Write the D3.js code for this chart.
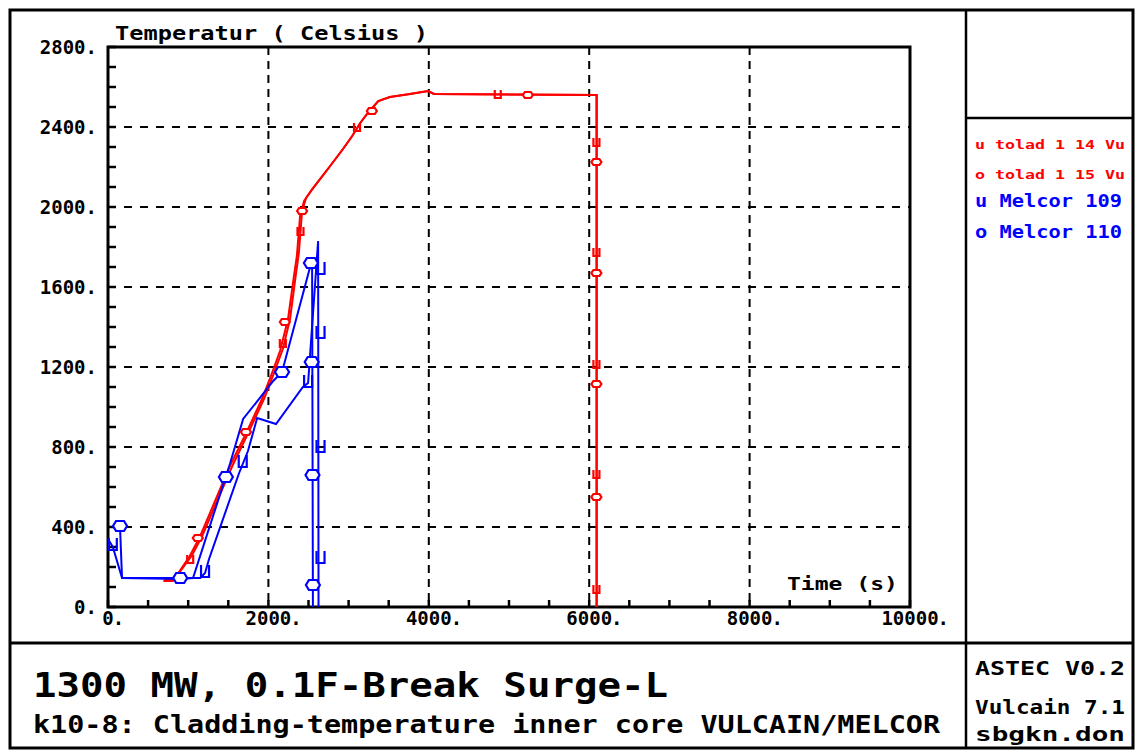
<!DOCTYPE html>
<html lang="en">
<head>
  <meta charset="UTF-8">
  <title>Cladding temperature inner core</title>
  <script src="https://d3js.org/d3.v7.min.js"></script>
  <style>
    body { margin: 0; background: #fff; }
    text { font-family: "DejaVu Sans Mono", monospace; font-weight: bold; }
  </style>
</head>
<body>
  <svg width="1136" height="751"></svg>

  <script>
    // Axis ticks
    const xTicks = [0, 2000, 4000, 6000, 8000, 10000];
    const yTicks = [0, 400, 800, 1200, 1600, 2000, 2400, 2800];

    // Curves: [time (s), temperature (C)]
    const tolad14 = [[690,130],[810,130],[1020,255],[1150,355],[1335,530],[1520,705],[1735,880],[1920,1040],[2045,1170],[2145,1280],[2245,1440],[2310,1630],[2355,1755],[2395,1955],[2445,2030],[2545,2090],[2645,2140],[2770,2205],[2930,2290],[3045,2355],[3145,2420],[3240,2470],[3370,2530],[3515,2550],[3765,2565],[3990,2580],[4065,2565],[6090,2560],[6090,0]];
    const tolad15 = [[700,135],[830,140],[1050,260],[1180,360],[1360,530],[1550,705],[1760,880],[1950,1045],[2075,1175],[2180,1290],[2270,1440],[2335,1640],[2380,1770],[2420,1980],[2470,2045],[2570,2100],[2645,2140],[2770,2205],[2930,2290],[3045,2355],[3145,2420],[3240,2470],[3370,2530],[3515,2550],[3765,2565],[3990,2580],[4065,2565],[6095,2560],[6095,0]];
    const melcor109 = [[0,340],[60,300],[175,145],[1150,145],[1210,170],[1260,240],[1630,665],[1745,780],[1860,945],[2095,915],[2430,1100],[2495,1120],[2620,1830],[2625,0]];
    const melcor110 = [[150,400],[175,145],[900,140],[1060,145],[1520,715],[1685,940],[2060,1130],[2170,1175],[2530,1715],[2545,1715],[2555,0]];

    // Marker positions
    const tolad14Marks = [[1025,235],[2180,1315],[2400,1875],[3105,2395],[4860,2560],[6090,2320],[6090,1770],[6090,1210],[6090,660],[6090,85]];
    const tolad15Marks = [[1120,345],[1720,875],[2205,1425],[2420,1980],[3290,2480],[5235,2560],[6090,2225],[6090,1670],[6090,1115],[6090,550]];
    const melcor109Marks = [[60,310],[1210,175],[1680,725],[2495,1125],[2650,1690],[2650,1370],[2650,800],[2650,245]];
    const melcor110Marks = [[150,405],[900,145],[1470,650],[2170,1175],[2530,1720],[2540,1225],[2550,660],[2555,110]];

    const legendLabels = ["u tolad 1 14 Vu", "o tolad 1 15 Vu", "u Melcor 109", "o Melcor 110"];

    const svg = d3.select("svg");

    const x = d3.scaleLinear().domain([0, 10000]).range([108, 910]);
    const y = d3.scaleLinear().domain([0, 2800]).range([607, 47]);

    // Outer frame and panel dividers
    svg.append("rect").attr("x", 10).attr("y", 10).attr("width", 1123).attr("height", 738)
      .attr("fill", "none").attr("stroke", "black").attr("stroke-width", 3);
    svg.append("line").attr("x1", 966).attr("x2", 966).attr("y1", 10).attr("y2", 748)
      .attr("stroke", "black").attr("stroke-width", 2.5);
    svg.append("line").attr("x1", 10).attr("x2", 1133).attr("y1", 643).attr("y2", 643)
      .attr("stroke", "black").attr("stroke-width", 3);
    svg.append("line").attr("x1", 966).attr("x2", 1133).attr("y1", 118).attr("y2", 118)
      .attr("stroke", "black").attr("stroke-width", 2.5);

    // Grid
    svg.selectAll(".hgrid")
      .data(yTicks.filter(d => d > 0 && d < 2800))
      .enter().append("line")
      .attr("class", "hgrid")
      .attr("x1", x(0)).attr("x2", x(10000))
      .attr("y1", d => y(d)).attr("y2", d => y(d))
      .attr("stroke", "black").attr("stroke-width", 2)
      .attr("stroke-dasharray", "8,8");
    svg.selectAll(".vgrid")
      .data(xTicks.filter(d => d > 0 && d < 10000))
      .enter().append("line")
      .attr("class", "vgrid")
      .attr("x1", d => x(d)).attr("x2", d => x(d))
      .attr("y1", y(2800)).attr("y2", y(0))
      .attr("stroke", "black").attr("stroke-width", 2)
      .attr("stroke-dasharray", "8,6");

    // Minor ticks (inward)
    svg.selectAll(".ytick")
      .data(d3.range(0, 2801, 100))
      .enter().append("line")
      .attr("class", "ytick")
      .attr("x1", x(0)).attr("x2", x(0) + 8)
      .attr("y1", d => y(d)).attr("y2", d => y(d))
      .attr("stroke", "black").attr("stroke-width", 2.5);
    svg.selectAll(".xtick")
      .data(d3.range(0, 10001, 500))
      .enter().append("line")
      .attr("class", "xtick")
      .attr("x1", d => x(d)).attr("x2", d => x(d))
      .attr("y1", y(0)).attr("y2", y(0) - 7)
      .attr("stroke", "black").attr("stroke-width", 2.5);

    // Plot frame
    svg.append("rect")
      .attr("x", x(0)).attr("y", y(2800))
      .attr("width", x(10000) - x(0)).attr("height", y(0) - y(2800))
      .attr("fill", "none").attr("stroke", "black").attr("stroke-width", 3);

    // Tick labels
    svg.selectAll(".ylab")
      .data(yTicks)
      .enter().append("text")
      .attr("class", "ylab")
      .attr("x", 97).attr("y", d => y(d) + 7)
      .attr("text-anchor", "end")
      .attr("font-size", 19)
      .text(d => d + ".");

    xTicks.forEach(function(v) {
      const t = svg.append("text")
        .attr("x", x(v)).attr("y", 625)
        .attr("text-anchor", "middle")
        .attr("font-size", 19)
        .text(v);
      const w = t.node().getComputedTextLength();
      svg.append("text")
        .attr("x", x(v) + w / 2 - 1).attr("y", 625)
        .attr("font-size", 19)
        .text(".");
    });

    // Axis titles
    svg.append("text").attr("x", 115).attr("y", 40)
      .attr("font-size", 19).attr("textLength", 313).attr("lengthAdjust", "spacingAndGlyphs")
      .text("Temperatur ( Celsius )");
    svg.append("text").attr("x", 787).attr("y", 590)
      .attr("font-size", 18).attr("textLength", 111).attr("lengthAdjust", "spacingAndGlyphs")
      .text("Time (s)");

    // Curves
    const line = d3.line().x(d => x(d[0])).y(d => y(d[1]));
    const series = [
      { data: tolad15, color: "red" },
      { data: tolad14, color: "red" },
      { data: melcor109, color: "blue" },
      { data: melcor110, color: "blue" }
    ];
    svg.selectAll(".curve")
      .data(series)
      .enter().append("path")
      .attr("class", "curve")
      .attr("d", d => line(d.data))
      .attr("fill", "none")
      .attr("stroke", d => d.color)
      .attr("stroke-width", 2);

    // Markers
    function drawMarks(data, shape, color) {
      svg.selectAll(null)
        .data(data)
        .enter().append("path")
        .attr("transform", d => "translate(" + x(d[0]) + "," + y(d[1]) + ")")
        .attr("d", shape)
        .attr("fill", shape.indexOf("Z") > 0 ? "white" : "none")
        .attr("stroke", color)
        .attr("stroke-width", 2.2);
    }
    const redU = "M-3,-5 V3 H3 V-5";
    const redO = "M-3,-3 H3 L5,0 L3,3 H-3 L-5,0 Z";
    const blueU = "M-4,-7 V5 H4 V-7";
    const blueO = "M-4,-5 H4 L7,0 L4,5 H-4 L-7,0 Z";
    drawMarks(tolad14Marks, redU, "red");
    drawMarks(tolad15Marks, redO, "red");
    drawMarks(melcor109Marks, blueU, "blue");
    drawMarks(melcor110Marks, blueO, "blue");

    // Legend
    const legendColors = ["red", "red", "blue", "blue"];
    const legendY = [149, 179, 207, 238];
    const legendW = [150, 150, 147, 147];
    svg.selectAll(".legend")
      .data(legendLabels)
      .enter().append("text")
      .attr("class", "legend")
      .attr("x", 975)
      .attr("y", (d, i) => legendY[i])
      .attr("font-size", (d, i) => i < 2 ? 13 : 17)
      .attr("textLength", (d, i) => legendW[i])
      .attr("lengthAdjust", "spacingAndGlyphs")
      .attr("fill", (d, i) => legendColors[i])
      .text(d => d);

    // Bottom caption
    svg.append("text").attr("x", 33).attr("y", 697)
      .attr("font-size", 33).attr("font-weight", "normal")
      .attr("textLength", 635).attr("lengthAdjust", "spacingAndGlyphs")
      .text("1300 MW, 0.1F-Break Surge-L");
    svg.append("text").attr("x", 33).attr("y", 733)
      .attr("font-size", 24).attr("font-weight", "normal")
      .attr("textLength", 907).attr("lengthAdjust", "spacingAndGlyphs")
      .text("k10-8: Cladding-temperature inner core VULCAIN/MELCOR");

    const stamp = ["ASTEC V0.2", "Vulcain 7.1", "sbgkn.don"];
    const stampY = [675, 714, 741];
    svg.selectAll(".stamp")
      .data(stamp)
      .enter().append("text")
      .attr("class", "stamp")
      .attr("x", 975)
      .attr("y", (d, i) => stampY[i])
      .attr("font-size", 20)
      .attr("textLength", 150)
      .attr("lengthAdjust", "spacingAndGlyphs")
      .text(d => d);
  </script>
</body>
</html>
